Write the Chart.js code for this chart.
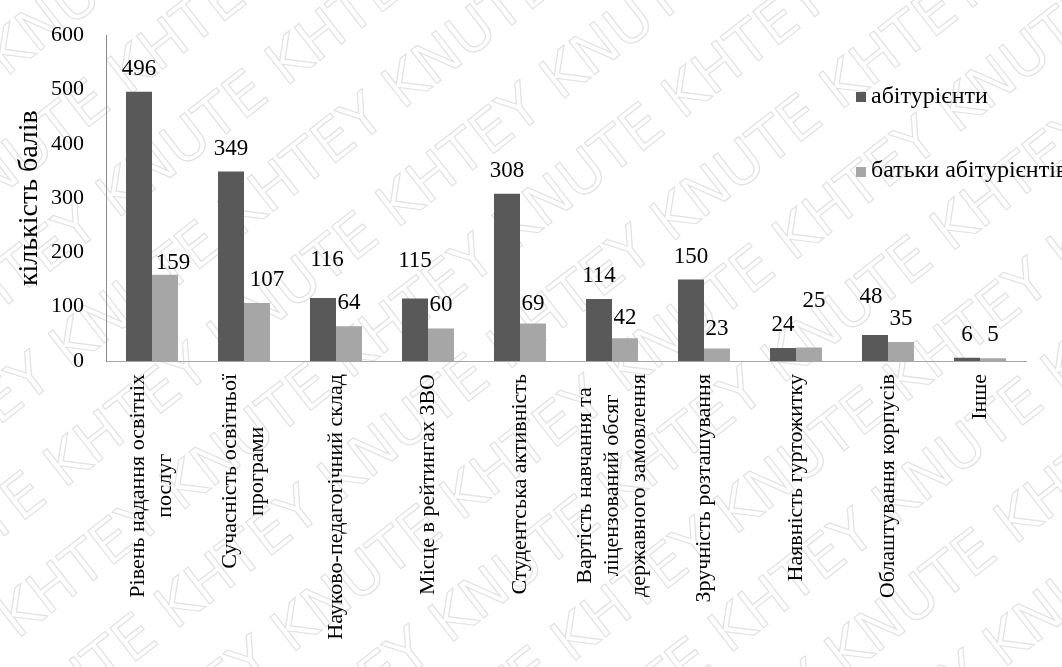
<!DOCTYPE html>
<html>
<head>
<meta charset="utf-8">
<script src="https://cdn.jsdelivr.net/npm/chart.js@4/dist/chart.umd.min.js"></script>
<style>
  html, body { margin: 0; padding: 0; background: #ffffff; }
  #wrap { position: relative; width: 1062px; height: 667px; }
  #wrap canvas { position: absolute; left: 0; top: 0; }
  #wm { z-index: 0; }
  #c { z-index: 1; }
</style>
</head>
<body>
<div id="wrap">
  <canvas id="wm" width="1062" height="667"></canvas>
  <canvas id="c" width="1062" height="667"></canvas>
</div>
<script>
// ---- data ----
const categories = [
  ['Рівень надання освітніх', 'послуг'],
  ['Сучасність освітньої', 'програми'],
  ['Науково-педагогічний склад'],
  ['Місце в рейтингах ЗВО'],
  ['Студентська активність'],
  ['Вартість навчання та', 'ліцензований обсяг', 'державного замовлення'],
  ['Зручність розташування'],
  ['Наявність гуртожитку'],
  ['Облаштування корпусів'],
  ['Інше']
];
const seriesNames = ['абітурієнти', 'батьки абітурієнтів'];
const applicants = [496, 349, 116, 115, 308, 114, 150, 24, 48, 6];
const parents = [159, 107, 64, 60, 69, 42, 23, 25, 35, 5];
const yTitle = 'кількість балів';
const yMin = 0, yMax = 600, yStep = 100;

// ---- style ----
const COLORS = ['#595959', '#a6a6a6'];
const SERIF = "'Liberation Serif', serif";
const FS_TICK = 22, FS_VAL = 23, FS_CAT = 22, FS_LEG = 24, FS_TITLE = 28;
// extra vertical lift / horizontal shift of individual value labels (px)
const labelLift = [
  [0, 0, 15, 15, 0, 0, 0, 0, 15, 0],
  [-11, 0, 0, 0, -3, -3, -3, 23, 0, 0]
];
const labelShiftX = [
  [0, 0, 4, 0, 0, 0, 0, 0, -4, 0],
  [8, 10, 0, 0, 0, 0, 0, 5, 0, 0]
];

const customPlugin = {
  id: 'custom',
  afterDatasetsDraw(chart) {
    const ctx = chart.ctx;
    ctx.save();
    ctx.font = FS_VAL + 'px ' + SERIF;
    ctx.fillStyle = '#000000';
    ctx.textAlign = 'center';
    ctx.textBaseline = 'middle';
    chart.data.datasets.forEach((ds, di) => {
      const meta = chart.getDatasetMeta(di);
      meta.data.forEach((bar, i) => {
        const y = bar.y - 23 - labelLift[di][i];
        ctx.fillText(String(ds.data[i]), bar.x + labelShiftX[di][i], y);
      });
    });
    ctx.restore();
  },
  afterDraw(chart) {
    const ctx = chart.ctx;
    const xs = chart.scales.x;
    ctx.save();
    ctx.font = FS_CAT + 'px ' + SERIF;
    ctx.fillStyle = '#000000';
    const lineH = 27;
    categories.forEach((lines, i) => {
      const cx = xs.getPixelForValue(i);
      const w = Math.max(...lines.map(l => ctx.measureText(l).width));
      const cy = xs.top + 13 + w / 2;
      lines.forEach((line, j) => {
        const lx = cx + (j - (lines.length - 1) / 2) * lineH;
        ctx.save();
        ctx.translate(lx, cy);
        ctx.rotate(-Math.PI / 2);
        ctx.textAlign = 'center';
        ctx.textBaseline = 'middle';
        ctx.fillText(line, 0, 0);
        ctx.restore();
      });
    });
    // legend
    ctx.font = FS_LEG + 'px ' + SERIF;
    const items = [[92, 103], [167, 177]];
    ctx.textAlign = 'left';
    ctx.textBaseline = 'alphabetic';
    seriesNames.forEach((name, k) => {
      ctx.fillStyle = COLORS[k];
      ctx.fillRect(856, items[k][0], 10, 10);
      ctx.fillStyle = '#000000';
      ctx.fillText(name, 871, items[k][1]);
    });
    ctx.restore();
  }
};

new Chart(document.getElementById('c'), {
  type: 'bar',
  data: {
    labels: categories,
    datasets: [
      { label: seriesNames[0], data: applicants, backgroundColor: COLORS[0], borderWidth: 0 },
      { label: seriesNames[1], data: parents, backgroundColor: COLORS[1], borderWidth: 0 }
    ]
  },
  options: {
    responsive: false,
    animation: false,
    devicePixelRatio: 1,
    layout: { padding: { left: 0, top: 25, right: 36, bottom: 0 } },
    datasets: { bar: { barPercentage: 1.0, categoryPercentage: 0.565 } },
    plugins: { legend: { display: false }, tooltip: { enabled: false } },
    scales: {
      x: {
        grid: { display: false, drawTicks: false },
        border: { display: true, color: '#a6a6a6', width: 1 },
        ticks: { display: false },
        afterFit(scale) { scale.height = 306; }
      },
      y: {
        min: yMin, max: yMax,
        grid: { display: false, drawTicks: false },
        border: { display: true, color: '#8c8c8c', width: 1 },
        ticks: {
          stepSize: yStep,
          padding: 22,
          color: '#000000',
          font: { family: SERIF, size: FS_TICK }
        },
        title: {
          display: true,
          text: yTitle,
          color: '#000000',
          font: { family: SERIF, size: FS_TITLE },
          padding: { top: 13, bottom: 0 }
        },
        afterFit(scale) { scale.width = 106; }
      }
    }
  },
  plugins: [customPlugin]
});

// background watermark on a separate canvas, drawn after the chart
(function () {
  const cv = document.getElementById('wm');
  const ctx = cv.getContext('2d');
  ctx.fillStyle = '#ffffff';
  ctx.fillRect(0, 0, cv.width, cv.height);
  ctx.translate(cv.width / 2, cv.height / 2);
  ctx.rotate(-38 * Math.PI / 180);
  ctx.font = '58px "DejaVu Sans", sans-serif';
  ctx.strokeStyle = '#e2e2e2';
  ctx.lineWidth = 1.2;
  ctx.textBaseline = 'middle';
  const row = 'KNUTE KHTEY KNUTE KHTEY KNUTE KHTEY KNUTE KHTEY KNUTE KHTEY';
  for (let r = -8; r <= 8; r++) {
    const off = (r % 2 === 0) ? 0 : -130;
    ctx.strokeText(row, -1100 + off, r * 90);
  }
})();
</script>
</body>
</html>
